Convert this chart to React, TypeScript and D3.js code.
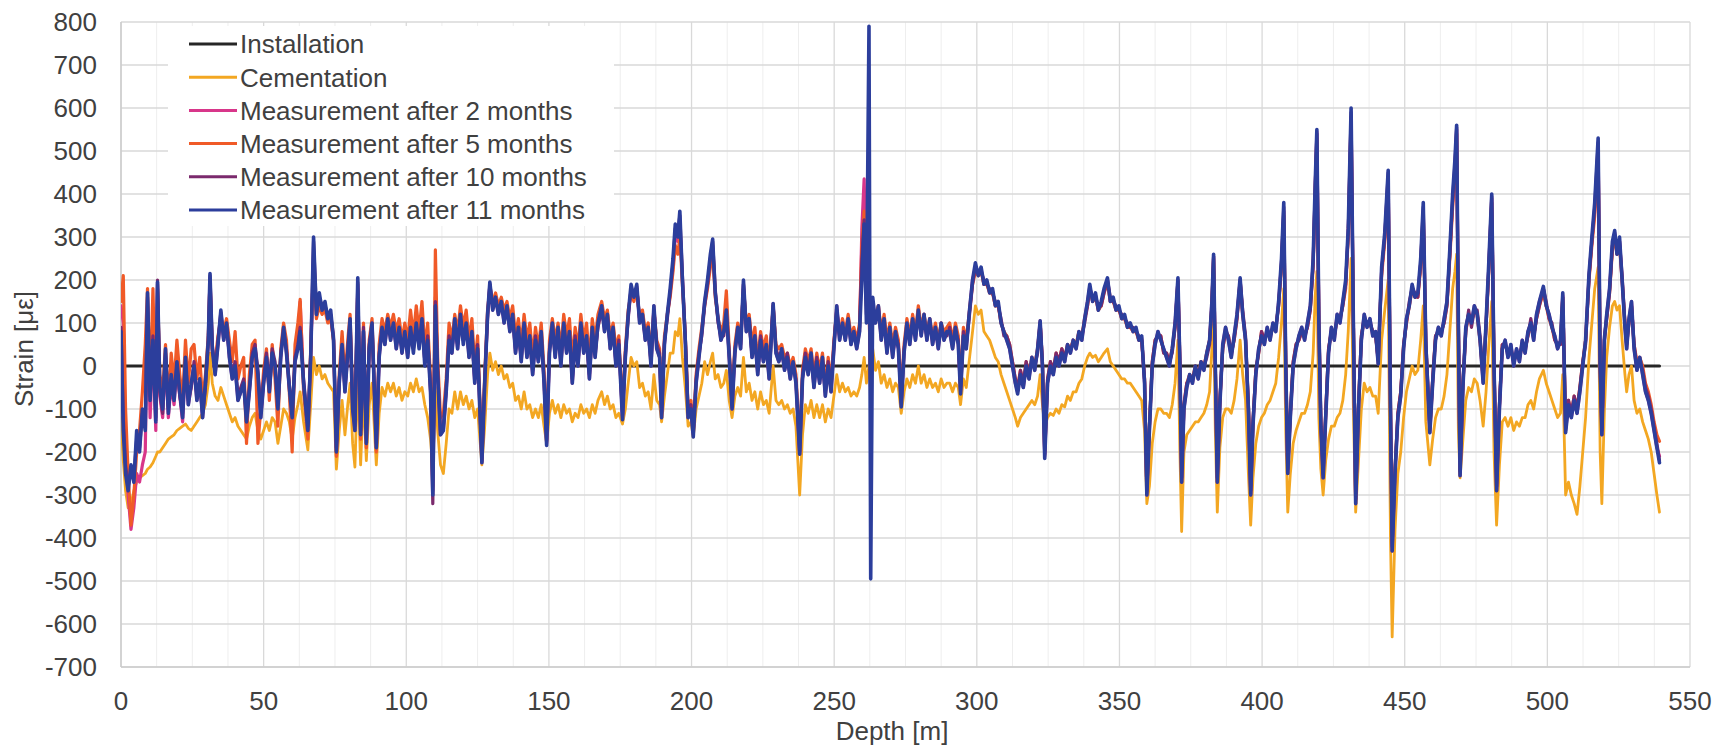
import React from 'react';
import * as d3 from 'd3';

// depth [m] of each reading, shared by the measured series
const depth = [
  0, 0.8, 1.6, 2.5, 3.5, 4.5, 5.5, 6.5, 7.5, 8.5,
  9.3, 10.2, 11.2, 12.2, 12.8, 13.6, 14.6, 15.6, 16.6, 17.6,
  18.6, 19.6, 20.6, 21.6, 22.6, 23.6, 24.6, 25.6, 26.6, 27.6,
  28.6, 29.6, 30.6, 31.2, 32, 33, 34, 35, 36, 37,
  38, 39, 40, 41, 42, 43, 44, 45, 46, 47,
  48, 49, 50,
  51, 52, 53, 54, 55, 56, 57, 58, 59, 60,
  61, 62, 62.8, 64, 65.5, 66.5, 67.5, 68.5, 69.5, 70.5,
  71.5, 72.5, 73.5, 74.5, 75.5, 76.5, 77.5, 78.5, 79.5, 80.3,
  81.2, 82, 83, 84, 85, 86, 87, 88, 89.5, 90.5,
  91.5, 92.5, 93.5, 94.5, 95.5, 96.5, 97.5, 98.5, 99.5,
  100.5, 101.5, 102.5, 103.5, 104.5, 105.5, 106.5, 107.5, 108.5, 109.3,
  110.2, 111, 112, 113, 114, 115, 116, 117, 118, 119,
  120, 121, 122, 123, 124, 125, 126.5, 127.5, 128.5, 129.3,
  130.3, 131.3, 132.3, 133.3, 134.3, 135.3, 136.3, 137.3, 138.3, 139.3,
  140.3, 141.3, 142.3, 143.3, 144.3, 145.3, 146.3, 147.3, 148.3, 149.2,
  150.2, 151.2, 152.2, 153.2, 154.2, 155.2, 156.2, 157.2, 158.2, 159.2,
  160.2, 161.2, 162.2, 163.2, 164.2, 165.2, 166.2, 167.2,
  168.5, 169.5, 170.5, 171.5, 172.5, 173.5, 174.5, 175.8, 176.8, 177.8,
  178.8, 179.8, 180.8, 181.8, 182.8, 183.8, 184.8, 185.8, 186.8, 187.8,
  188.8, 189.5, 190.5, 191.5, 192.5, 193.5, 194.3, 195.2, 195.9, 196.8,
  197.8, 198.8, 199.8, 200.6, 201.6, 202.6, 203.6, 204.6, 205.6, 206.6,
  207.4, 208.3, 209.3, 210.3, 211.3, 212.2, 213.2, 214.2, 215.2, 216.2,
  217.2, 218.2, 219.2, 220.2, 221.2, 222.2, 223.2, 224.2, 225.2, 226.2,
  227.2, 228.6, 229.6, 230.6, 231.6, 232.6, 233.6, 234.6, 235.6, 236.6,
  237.9, 238.9, 239.9, 240.9, 241.9, 242.9, 243.9, 244.9, 245.9, 246.9,
  247.9, 248.9, 249.9, 250.9, 251.9, 252.9, 253.9, 254.9, 255.9, 256.9,
  257.9, 258.9, 259.7, 260.5, 261.3, 262.2, 262.8, 263.5, 264.5, 265.5,
  266.5, 267.5, 268.5, 269.5, 270.5, 271.5, 272.5, 273.5, 274.5, 275.5,
  276.5, 277.5, 278.5, 279.5, 280.5, 281.5, 282.5, 283.5, 284.5, 285.5,
  286.5, 287.5, 288.5, 289.5,
  290.5, 291.5, 292.5, 293.5, 294.3, 295.3, 296.3, 297.3, 298.5, 299.5,
  300.5, 301.5, 302.5, 303.5, 304.5, 305.5, 306.5, 307.5, 308.5, 309.5,
  310.5, 311.5, 312.5, 313.5, 314.3, 315.3, 316.3, 317.3, 318.3, 319.3,
  320.3, 321.3, 322.2, 323.0, 323.8, 324.8, 325.8, 326.8, 327.8, 328.8,
  329.8, 330.8, 331.8, 332.8, 333.8, 334.8, 335.8, 336.8, 337.8, 338.8,
  339.6, 340.6, 341.6, 342.6, 343.6, 344.6, 345.8, 346.8, 347.8, 348.8,
  349.8, 350.8, 351.8, 352.8, 353.8, 354.8, 355.8, 356.8, 357.8, 358.8,
  359.6, 360.5, 361.5, 362.5, 363.5, 364.5, 365.5, 366.5, 367.5, 368.5,
  369.5, 370.5, 371.2, 371.8, 372.6, 373.6, 374.6, 375.6, 376.6, 377.6,
  378.6, 379.6, 380.6, 381.6, 382.4, 383.0, 383.6, 384.3, 385.2, 386.2,
  387.2, 388.2, 389.2, 390.2, 391.2, 392.3, 393.2, 394.2, 395.2, 396.0,
  396.8, 397.8, 398.8, 399.8, 400.8, 401.8, 402.8, 403.8, 404.8, 405.8,
  406.8, 407.6, 408.3, 409.0, 409.9, 410.9, 411.9, 412.9, 413.9, 414.9,
  415.9, 416.9, 417.9, 418.6, 419.2, 419.9, 420.6, 421.4, 422.3, 423.3,
  424.3, 425.3, 426.3, 427.3, 428.3, 429.3, 430.2, 431.2,
  432.0, 432.8, 433.8, 434.8, 435.8, 436.8, 437.8, 438.8, 439.8, 440.7,
  441.9, 443.0, 444.2, 445.0, 445.6, 446.6, 447.6, 448.6, 449.6, 450.6,
  451.6, 452.6, 453.6, 454.6, 455.6, 456.5, 457.4, 458.8, 459.8, 460.8,
  461.8, 462.8, 463.8, 464.8, 465.8, 466.8, 467.6, 468.2, 468.8, 469.4,
  470.4, 471.4, 472.4, 473.4, 474.4, 475.4, 476.4, 477.5, 478.5, 479.4,
  480.5, 481.3, 482.2, 483.2, 484.2, 485.2, 486.2, 487.2, 488.2, 489.2,
  490.2, 491.2, 492.2, 493.2, 494.2, 495.2, 496.2, 497.2, 498.6, 499.6,
  500.6, 501.6, 502.6, 503.6, 504.6, 505.4, 506.4, 507.4, 508.4, 509.4,
  510.4, 511.4, 512.4, 513.4, 514.6, 515.6, 516.6, 517.8, 518.5, 519.1,
  520.0, 520.8, 521.8, 522.8, 523.6, 524.4, 525.3, 526.2, 527.2, 527.8,
  528.6, 529.5, 530.4, 531.4, 532.4, 533.4, 534.4, 535.4, 536.4, 537.4,
  538.4, 539.3,
];

const cementation = [
  -120, -220, -290, -330, -320, -290, -270, -260, -255, -250,
  -240, -235, -225, -210, -200, -200, -190, -180, -170, -165,
  -160, -150, -145, -140, -135, -145, -150, -140, -130, -120,
  -110, -90, -40, 30, -40, -70, -80, -50, -70, -90,
  -110, -130, -120, -140, -150, -160, -170, -140, -120, -110,
  -150, -170, -150,
  -130, -150, -120, -130, -180, -140, -100, -110, -130, -170,
  -120, -90, -60, -130, -195, -90, 20, -20, 0, -30,
  -20, -40, -50, -60, -240, -150, -80, -160, -90, -40,
  -180, -235, -20, -230, -60, -220, -90, -40, -230, -110,
  -50, -70, -40, -60, -40, -70, -50, -80, -60,
  -70, -40, -60, -30, -60, -50, -90, -120, -170, -240,
  -50, -150, -230, -250, -180, -100, -110, -60, -100, -60,
  -90, -70, -100, -80, -120, -100, -230, -140, -20, 30,
  -10, 10, -20, 0, -30, -20, -50, -40, -80, -70,
  -100, -60, -100, -90, -120, -100, -120, -90, -140, -180,
  -110, -80, -110, -90, -120, -90, -110, -100, -130, -110,
  -120, -90, -110, -100, -120, -90, -110, -80,
  -60, -90, -70, -100, -90, -120, -110, -135, -100, -40,
  20, 0, 10, -50, -40, -70, -60, -100, -20, -80,
  -90, -130, -70, -20, 30, 30, 80, 70, 110, 20,
  -50, -140, -130, -165, -100, -70, -40, 10, -20, 10,
  30, -30, -20, -50, -40, -10, -80, -120, -70, -50,
  -70, 20, -60, -40, -80, -60, -100, -60, -90, -80,
  -110, 0, -80, -90, -80, -100, -90, -110, -100, -140,
  -300, -160, -90, -110, -80, -120, -90, -120, -90, -130,
  -100, -120, -70, -20, -60, -40, -60, -50, -70, -60,
  -70, -50, -20, 20, -40, 0, -50, 40, -10, 10,
  -40, -20, -50, -30, -60, -40, -50, -110, -60, -30,
  -50, -20, -40, 0, -40, -20, -50, -30, -50, -40,
  -60, -30, -50, -40,
  -40, -60, -40, -50, -90, -30, -50, 10, 80, 140,
  120, 130, 80, 70, 60, 40, 20, 10, -20, -40,
  -60, -80, -100, -120, -140, -120, -110, -100, -90, -80,
  -90, -70, -20, -90, -140, -120, -110, -115, -100, -110,
  -90, -95, -70, -80, -60, -60, -40, -30, 0, 20,
  30, 20, 25, 10, 20, 30, 40, 10, 0, -10,
  -20, -30, -30, -40, -40, -50, -60, -70, -80, -150,
  -320, -280, -180, -130, -100, -100, -110, -110, -120, -90,
  -40, 60, -200, -385, -200, -160, -150, -140, -130, -130,
  -120, -110, -90, -60, 40, 130, -150, -340, -190, -120,
  -100, -100, -110, -80, -30, 60, -20, -80, -250, -370,
  -260, -180, -140, -120, -110, -90, -80, -60, -40, 20,
  100, 180, -150, -340, -250, -180, -150, -130, -110, -110,
  -90, -60, 30, 160, 220, -120, -240, -300, -220, -170,
  -140, -140, -120, -110, -80, -20, 80, 250,
  -100, -340, -220, -100, -40, -60, -50, -70, -70, -110,
  60, 130, 200, -400, -630, -380, -250, -200, -120, -60,
  -30, 0, -20, -10, 60, 140, -130, -230, -170, -120,
  -100, -100, -70, -20, 80, 180, 220, 260, -150, -260,
  -170, -80, -50, -60, -30, -40, -80, -140, -60, 40,
  150, -200, -370, -230, -130, -120, -140, -120, -150, -130,
  -140, -120, -120, -90, -80, -100, -60, -30, -10, -40,
  -60, -80, -100, -120, -110, -20, -300, -270, -300, -320,
  -345, -280, -200, -120, 20, 100, 180, 230, -200, -320,
  -100, 20, 90, 140, 150, 130, 140, 60, -20, -60,
  -20, 0, -80, -110, -100, -130, -150, -170, -200, -250,
  -300, -340,
];

const after2 = [
  140, 100, -200, -300, -380, -330, -250, -270, -230, -200,
  140, -120, 50, -150, 190, -70, -120, 20, -120, -40,
  -90, 0, -70, -130, 10, -90, -50, 0, -80, -30,
  -120, -40, 60, 205, 40, -20, 50, 120, 60, 100,
  20, -30, 0, -80, -60, -40, -130, -60, 20, 40,
  -20, -120, -40,
  20, -60, 30, 0, -100, 20, 90, 30, -50, -130,
  10, 50, 150, -40, -150, 20, 260, 120, 150, 130,
  140, 110, 120, 60, -200, -40, 50, -60, 30, 110,
  -100, -150, 190, -160, 80, -180, 40, 100, -190, 20,
  90, 50, 110, 60, 100, 40, 90, 30, 80,
  20, 100, 40, 110, 50, 120, 10, 70, -60, -290,
  160, -20, -160, -150, -60, 70, 30, 110, 40, 120,
  60, 100, 20, 80, -40, 40, -225, -40, 120, 190,
  130, 160, 120, 150, 100, 140, 80, 120, 30, 90,
  10, 100, 20, 70, -20, 60, 10, 80, -40, -180,
  30, 100, 20, 90, 0, 100, 30, 80, -40, 60,
  0, 100, 30, 70, -30, 90, 20, 100,
  140, 80, 120, 40, 90, 0, 50, -120, 20, 120,
  180, 160, 185, 100, 120, 60, 90, 0, 140, 40,
  20, -120, 50, 120, 170, 230, 300, 290, 330, 200,
  60, -120, -100, -160, -40, 20, 80, 150, 190, 240,
  280, 170, 110, 60, 80, 140, 20, -100, 30, 90,
  40, 190, 80, 110, 20, 70, -20, 60, 10, 50,
  -30, 145, 30, 10, 40, -10, 20, -30, 10, -40,
  -205, -30, 20, -20, 30, -50, 10, -40, 20, -70,
  0, -60, 40, 140, 60, 100, 60, 110, 50, 80,
  40, 80, 320, 435, 180, 160, -60, 130, 100, 140,
  60, 110, 30, 90, 20, 80, 40, -90, 30, 100,
  50, 110, 60, 130, 70, 120, 60, 110, 50, 90,
  40, 100, 60, 80,
  80, 40, 90, 50, -60, 70, 40, 120, 200, 230,
  215, 225, 190, 195, 170, 175, 140, 145, 100, 80,
  60, 40, 0, -40, -60, -20, -50, 0, -30, 20,
  -10, 40, 105, 0, -210, -40, 0, -20, 20, 0,
  30, 10, 50, 30, 60, 40, 80, 60, 110, 150,
  185, 150, 165, 130, 145, 175, 200, 150, 155, 130,
  135, 110, 115, 90, 95, 80, 85, 60, 65, -40,
  -300, -150, 0, 50, 80, 60, 40, 20, 0, 40,
  100, 200, 0, -270, -100, -50, -20, -40, 0, -30,
  10, -10, 30, 60, 150, 255, 0, -270, -90, 50,
  90, 60, 20, 70, 120, 200, 120, 60, -100, -300,
  -140, -20, 40, 70, 50, 90, 60, 100, 80, 150,
  240, 360, 0, -250, -120, 0, 40, 70, 90, 60,
  100, 140, 240, 410, 545, 100, -140, -260, -120, 30,
  90, 60, 120, 100, 150, 190, 310, 580,
  100, -320, -100, 60, 120, 90, 110, 70, 80, 5,
  220, 300, 440, -100, -430, -250, -120, -70, 40, 110,
  140, 185, 160, 165, 240, 360, 50, -155, -40, 60,
  90, 70, 110, 150, 260, 380, 460, 550, 100, -255,
  -50, 90, 120, 100, 140, 120, 60, -40, 100, 220,
  390, 0, -290, -100, 40, 60, 20, 50, 0, 40,
  10, 60, 30, 80, 100, 60, 120, 150, 180, 140,
  120, 90, 70, 40, 60, 165, -150, -90, -120, -80,
  -110, -60, 0, 60, 210, 290, 360, 510, 0, -160,
  60, 120, 180, 280, 310, 260, 290, 200, 90, 40,
  110, 150, 40, -10, 20, -20, -60, -80, -110, -150,
  -190, -210,
];

const after5 = [
  150, 210, -100, -250, -370, -300, -200, -150, -60, 50,
  180, -60, 180, -110, 180, -20, -60, 50, -90, 30,
  -40, 60, -20, -80, 60, -40, 40, 50, -30, 20,
  -80, -20, 70, 200, 30, 10, 70, 110, 80, 110,
  60, 10, 80, -30, 0, 20, -180, -20, 50, 60,
  -180, -100, -10,
  40, -80, 50, -30, -140, 40, 100, 60, -60, -200,
  50, 100, 155, -60, -170, 40, 240, 110, 140, 120,
  130, 100, 110, 60, -210, -20, 80, -30, 60, 120,
  -80, -120, 180, -170, 100, -190, 60, 110, -200, 50,
  110, 80, 120, 90, 120, 80, 110, 60, 100,
  60, 130, 70, 140, 80, 150, 40, 100, -30, -280,
  270, 20, -120, -110, -30, 100, 60, 120, 80, 140,
  90, 130, 60, 110, 0, 70, -210, -20, 130, 180,
  150, 170, 140, 160, 130, 150, 110, 140, 70, 110,
  50, 120, 60, 100, 20, 90, 40, 100, -10, -170,
  60, 110, 60, 100, 40, 120, 70, 110, 10, 90,
  40, 120, 60, 100, 10, 110, 60, 120,
  150, 110, 130, 70, 100, 40, 70, -100, 40, 130,
  170, 150, 180, 110, 130, 80, 100, 30, 130, 60,
  40, -100, 70, 120, 160, 220, 280, 260, 300, 190,
  70, -100, -80, -150, -20, 40, 90, 140, 180, 230,
  270, 160, 110, 80, 100, 175, 40, -80, 50, 100,
  60, 180, 100, 120, 50, 90, 10, 80, 40, 70,
  0, 140, 50, 40, 50, 20, 30, 0, 20, -20,
  -190, -10, 40, 10, 40, -20, 30, -10, 30, -50,
  20, -40, 60, 130, 70, 110, 80, 120, 70, 90,
  60, 100, 280, 360, 140, 150, -60, 120, 120, 140,
  80, 120, 60, 100, 50, 90, 60, -70, 50, 110,
  70, 120, 80, 140, 90, 120, 80, 110, 70, 100,
  60, 100, 80, 90,
  100, 60, 100, 70, -50, 90, 60, 120, 190, 220,
  210, 220, 190, 190, 170, 170, 140, 140, 100, 80,
  70, 50, 10, -30, -50, -10, -40, 10, -20, 20,
  0, 40, 100, 10, -200, -30, 10, -10, 30, 10,
  40, 20, 50, 40, 60, 50, 80, 70, 110, 140,
  180, 150, 160, 130, 140, 170, 195, 150, 150, 130,
  130, 110, 110, 90, 90, 80, 80, 60, 60, -30,
  -290, -140, 10, 60, 70, 70, 30, 30, 10, 40,
  90, 195, 0, -260, -90, -40, -20, -30, 0, -20,
  10, 0, 30, 60, 140, 250, 0, -260, -80, 40,
  80, 70, 30, 60, 110, 195, 120, 60, -90, -290,
  -130, -10, 30, 80, 60, 80, 70, 90, 90, 140,
  230, 350, 0, -240, -110, 10, 50, 60, 80, 70,
  90, 130, 230, 400, 530, 100, -130, -250, -110, 40,
  80, 70, 110, 110, 140, 180, 300, 570,
  100, -310, -90, 70, 110, 100, 100, 80, 70, 15,
  210, 290, 420, -90, -410, -240, -110, -60, 50, 100,
  140, 180, 160, 160, 230, 350, 50, -150, -30, 70,
  80, 80, 100, 140, 250, 370, 450, 540, 100, -250,
  -40, 80, 120, 100, 130, 120, 60, -30, 90, 210,
  380, 0, -280, -90, 50, 50, 30, 40, 10, 30,
  20, 50, 40, 70, 100, 70, 110, 140, 170, 140,
  110, 90, 60, 50, 50, 160, -140, -80, -110, -70,
  -100, -50, 10, 60, 200, 280, 350, 500, 0, -150,
  60, 110, 170, 270, 300, 260, 280, 200, 100, 60,
  100, 140, 50, 10, 20, 0, -40, -60, -90, -130,
  -160, -175,
];

const after10 = [
  90, -120, -230, -280, -250, -260, -170, -190, -110, -140,
  160, -70, 70, -120, 200, -60, -110, 30, -100, -30,
  -70, 0, -70, -110, 10, -80, -50, 10, -70, -40,
  -110, -50, 50, 210, 50, -10, 60, 125, 70, 90,
  30, -20, 10, -70, -50, -30, -120, -50, 30, 50,
  -10, -110, -30,
  30, -50, 40, 10, -90, 30, 80, 40, -40, -110,
  20, 50, 90, -30, -140, 30, 290, 130, 160, 140,
  140, 120, 120, 70, -190, -30, 40, -50, 40, 100,
  -90, -140, 195, -150, 90, -170, 50, 90, -180, 30,
  80, 60, 100, 70, 90, 50, 80, 40, 70,
  30, 80, 40, 90, 50, 100, 10, 70, -50, -320,
  150, -10, -150, -140, -50, 70, 40, 100, 50, 110,
  60, 90, 30, 70, -30, 50, -220, -30, 110, 190,
  140, 150, 130, 140, 110, 130, 90, 110, 40, 80,
  20, 90, 30, 60, -10, 70, 20, 70, -30, -175,
  40, 90, 30, 80, 10, 90, 40, 70, -30, 70,
  10, 90, 40, 60, -20, 80, 30, 90,
  130, 90, 110, 50, 80, 10, 60, -115, 30, 110,
  180, 170, 180, 110, 110, 70, 80, 10, 130, 50,
  30, -110, 60, 110, 170, 240, 320, 310, 350, 210,
  70, -110, -90, -155, -30, 30, 70, 140, 190, 250,
  290, 180, 100, 70, 70, 120, 30, -90, 40, 80,
  50, 190, 90, 100, 30, 60, -10, 70, 20, 40,
  -20, 140, 40, 20, 30, 0, 30, -20, 0, -30,
  -200, -20, 30, -10, 20, -40, 20, -30, 10, -60,
  10, -50, 50, 130, 70, 90, 70, 100, 60, 70,
  50, 90, 250, 340, 120, 300, -100, 130, 110, 130,
  70, 100, 40, 80, 30, 70, 50, -85, 40, 90,
  60, 100, 70, 120, 80, 110, 70, 100, 60, 80,
  50, 90, 70, 70,
  90, 50, 80, 60, -55, 80, 50, 110, 190, 230,
  220, 220, 200, 190, 180, 170, 150, 140, 110, 70,
  70, 50, 10, -30, -55, -10, -40, 10, -20, 10,
  0, 30, 100, 10, -205, -30, 10, -10, 30, 10,
  40, 20, 40, 40, 50, 50, 70, 70, 100, 140,
  180, 160, 160, 140, 140, 170, 200, 160, 150, 140,
  130, 120, 110, 100, 90, 90, 80, 70, 60, -30,
  -290, -140, 10, 60, 70, 70, 30, 30, 10, 30,
  90, 200, 10, -260, -90, -40, -30, -30, -10, -20,
  0, 0, 20, 50, 140, 255, 10, -260, -80, 40,
  80, 70, 30, 60, 110, 200, 130, 70, -90, -290,
  -130, -10, 30, 80, 60, 80, 70, 90, 90, 140,
  240, 370, 10, -240, -110, 10, 50, 60, 80, 70,
  90, 130, 240, 410, 540, 110, -130, -250, -110, 40,
  80, 70, 110, 110, 140, 190, 310, 590,
  110, -310, -90, 70, 110, 100, 100, 80, 70, 15,
  220, 300, 450, -80, -420, -240, -110, -60, 50, 100,
  150, 180, 170, 160, 240, 370, 60, -145, -30, 70,
  80, 80, 100, 140, 260, 390, 470, 555, 110, -245,
  -40, 80, 130, 90, 130, 130, 70, -30, 90, 220,
  395, 10, -280, -90, 50, 50, 30, 40, 10, 30,
  20, 50, 40, 70, 110, 70, 110, 140, 180, 150,
  110, 100, 60, 50, 50, 160, -145, -80, -110, -70,
  -100, -50, 10, 50, 205, 290, 370, 520, 10, -150,
  70, 110, 170, 280, 305, 270, 290, 210, 100, 50,
  100, 140, 50, 0, 10, -10, -50, -70, -100, -140,
  -180, -220,
];

const after11 = [
  80, -150, -250, -290, -230, -270, -150, -200, -100, -150,
  170, -80, 60, -130, 195, -50, -100, 40, -110, -20,
  -80, 10, -60, -120, 20, -90, -40, 0, -80, -30,
  -120, -40, 60, 215, 40, -20, 50, 130, 60, 100,
  20, -30, 0, -80, -60, -40, -130, -60, 20, 40,
  -20, -120, -40,
  20, -60, 30, 0, -100, 20, 90, 30, -50, -120,
  10, 40, 80, -40, -150, 20, 300, 120, 170, 130,
  150, 110, 130, 60, -200, -40, 50, -60, 30, 110,
  -100, -150, 205, -160, 80, -180, 40, 100, -190, 20,
  90, 50, 110, 60, 100, 40, 90, 30, 80,
  20, 90, 30, 100, 40, 110, 0, 60, -60, -300,
  140, -20, -160, -150, -60, 60, 30, 110, 40, 120,
  50, 100, 20, 80, -40, 40, -225, -40, 120, 195,
  130, 160, 120, 150, 100, 140, 80, 120, 30, 90,
  10, 100, 20, 70, -20, 60, 10, 80, -40, -185,
  30, 100, 20, 90, 0, 100, 30, 80, -40, 60,
  0, 100, 30, 70, -30, 90, 20, 100,
  140, 80, 120, 40, 90, 0, 50, -125, 20, 120,
  190, 160, 190, 100, 120, 60, 90, 0, 140, 40,
  20, -120, 50, 120, 180, 250, 330, 300, 360, 200,
  60, -120, -100, -165, -40, 20, 80, 150, 200, 260,
  295, 170, 110, 60, 80, 130, 20, -100, 30, 90,
  40, 200, 80, 110, 20, 70, -20, 60, 10, 50,
  -30, 145, 30, 10, 40, -10, 20, -30, 10, -40,
  -205, -30, 20, -20, 30, -50, 10, -40, 20, -70,
  0, -60, 40, 140, 60, 100, 60, 110, 50, 80,
  40, 80, 200, 330, 100, 790, -495, 160, 100, 140,
  60, 110, 30, 90, 20, 80, 40, -95, 30, 100,
  50, 110, 60, 130, 70, 120, 60, 110, 50, 90,
  40, 100, 60, 80,
  80, 40, 90, 50, -65, 70, 40, 120, 200, 240,
  210, 230, 190, 200, 170, 180, 140, 150, 100, 80,
  60, 40, 0, -40, -65, -20, -50, 0, -30, 20,
  -10, 40, 105, 0, -215, -40, 0, -20, 20, 0,
  30, 10, 50, 30, 60, 40, 80, 60, 110, 150,
  190, 150, 170, 130, 150, 180, 205, 150, 160, 130,
  140, 110, 120, 90, 100, 80, 90, 60, 70, -40,
  -300, -150, 0, 50, 80, 60, 40, 20, 0, 40,
  100, 205, 0, -270, -100, -50, -20, -40, 0, -30,
  10, -10, 30, 60, 150, 260, 0, -270, -90, 50,
  90, 60, 20, 70, 120, 205, 120, 60, -100, -300,
  -140, -20, 40, 70, 50, 90, 60, 100, 80, 150,
  250, 380, 0, -250, -120, 0, 40, 70, 90, 60,
  100, 140, 250, 420, 550, 100, -140, -260, -120, 30,
  90, 60, 120, 100, 150, 200, 320, 600,
  100, -320, -100, 60, 120, 90, 110, 70, 80, 5,
  230, 310, 455, -100, -430, -250, -120, -70, 40, 110,
  140, 190, 160, 170, 250, 380, 50, -155, -40, 60,
  90, 70, 110, 150, 270, 400, 480, 560, 100, -255,
  -50, 90, 120, 100, 140, 120, 60, -40, 100, 230,
  400, 0, -290, -100, 40, 60, 20, 50, 0, 40,
  10, 60, 30, 80, 100, 60, 120, 150, 185, 140,
  120, 90, 70, 40, 60, 170, -155, -90, -120, -80,
  -110, -60, 0, 60, 215, 300, 380, 530, 0, -160,
  60, 120, 180, 290, 315, 260, 300, 200, 90, 40,
  110, 150, 40, -10, 20, -20, -60, -80, -110, -150,
  -190, -225,
];

// reference reading at installation: zero strain along the whole cable
const installationDepth = [0, 539.3];
const installation = [0, 0];

const xTicks = d3.range(0, 551, 50);
const yTicks = d3.range(-700, 801, 100);

const W = 1722;
const H = 756;
const plot = { left: 121, right: 1690, top: 22, bottom: 667 };
const font = '"Liberation Sans", Arial, sans-serif';

const series = [
  { name: 'Installation', xs: installationDepth, ys: installation, color: '#262626', w: 3.2 },
  { name: 'Cementation', xs: depth, ys: cementation, color: '#f3a722', w: 2.8 },
  { name: 'Measurement after 2 months', xs: depth, ys: after2, color: '#d8368a', w: 3.2 },
  { name: 'Measurement after 5 months', xs: depth, ys: after5, color: '#f05a28', w: 3.2 },
  { name: 'Measurement after 10 months', xs: depth, ys: after10, color: '#7b2a6d', w: 3.2 },
  { name: 'Measurement after 11 months', xs: depth, ys: after11, color: '#2c3e9c', w: 3.6 },
];

export default function App() {
  const x = d3.scaleLinear().domain([0, 550]).range([plot.left, plot.right]);
  const y = d3.scaleLinear().domain([-700, 800]).range([plot.bottom, plot.top]);

  const path = (xs: number[], ys: number[]) =>
    d3
      .line<number>()
      .defined((d, i) => d != null && xs[i] != null)
      .x((_, i) => x(xs[i]))
      .y((d) => y(d))(ys) || '';

  const minor = d3.range(0, 550.1, 12.5).filter((v) => v % 50 !== 0);

  return (
    <svg
      width={W}
      height={H}
      style={{ position: 'absolute', left: 0, top: 0, background: '#fff' }}
      fontFamily={font}
    >
      <defs>
        <clipPath id="plotArea">
          <rect x={plot.left} y={plot.top - 2} width={plot.right - plot.left} height={plot.bottom - plot.top + 4} />
        </clipPath>
      </defs>

      {/* grid */}
      {minor.map((v) => (
        <line key={'m' + v} x1={x(v)} x2={x(v)} y1={plot.top} y2={plot.bottom} stroke="#eeeeee" strokeWidth={1} />
      ))}
      {xTicks.map((v) => (
        <line key={'gx' + v} x1={x(v)} x2={x(v)} y1={plot.top} y2={plot.bottom} stroke="#d9d9d9" strokeWidth={1.3} />
      ))}
      {yTicks.map((v) => (
        <line key={'gy' + v} x1={plot.left} x2={plot.right} y1={y(v)} y2={y(v)} stroke="#d9d9d9" strokeWidth={1.3} />
      ))}
      <line x1={plot.left} x2={plot.left} y1={plot.top} y2={plot.bottom} stroke="#cccccc" strokeWidth={1.5} />
      <line x1={plot.left} x2={plot.right} y1={plot.bottom} y2={plot.bottom} stroke="#cccccc" strokeWidth={1.5} />

      {/* series */}
      <g clipPath="url(#plotArea)" fill="none" strokeLinejoin="round" strokeLinecap="round">
        {series.map((s) => (
          <path key={s.name} d={path(s.xs, s.ys)} stroke={s.color} strokeWidth={s.w} />
        ))}
      </g>

      {/* axes labels */}
      {yTicks.map((v) => (
        <text key={'ty' + v} x={plot.left - 24} y={y(v)} dy="0.35em" textAnchor="end" fontSize={26} fill="#404040">
          {v}
        </text>
      ))}
      {xTicks.map((v) => (
        <text key={'tx' + v} x={x(v)} y={plot.bottom + 43} textAnchor="middle" fontSize={26} fill="#404040">
          {v}
        </text>
      ))}
      <text
        transform={`translate(33,349) rotate(-90)`}
        textAnchor="middle"
        fontSize={26}
        fill="#404040"
      >
        Strain [με]
      </text>
      <text x={892} y={740} textAnchor="middle" fontSize={26} fill="#404040">
        Depth [m]
      </text>

      {/* legend */}
      <rect x={168} y={26} width={446} height={200} fill="#ffffff" />
      {series.map((s, i) => {
        const ly = 44 + i * 33.2;
        return (
          <g key={'lg' + s.name}>
            <line x1={189} x2={237} y1={ly} y2={ly} stroke={s.color} strokeWidth={3} />
            <text x={240} y={ly} dy="0.36em" fontSize={26} fill="#404040">
              {s.name}
            </text>
          </g>
        );
      })}
    </svg>
  );
}
